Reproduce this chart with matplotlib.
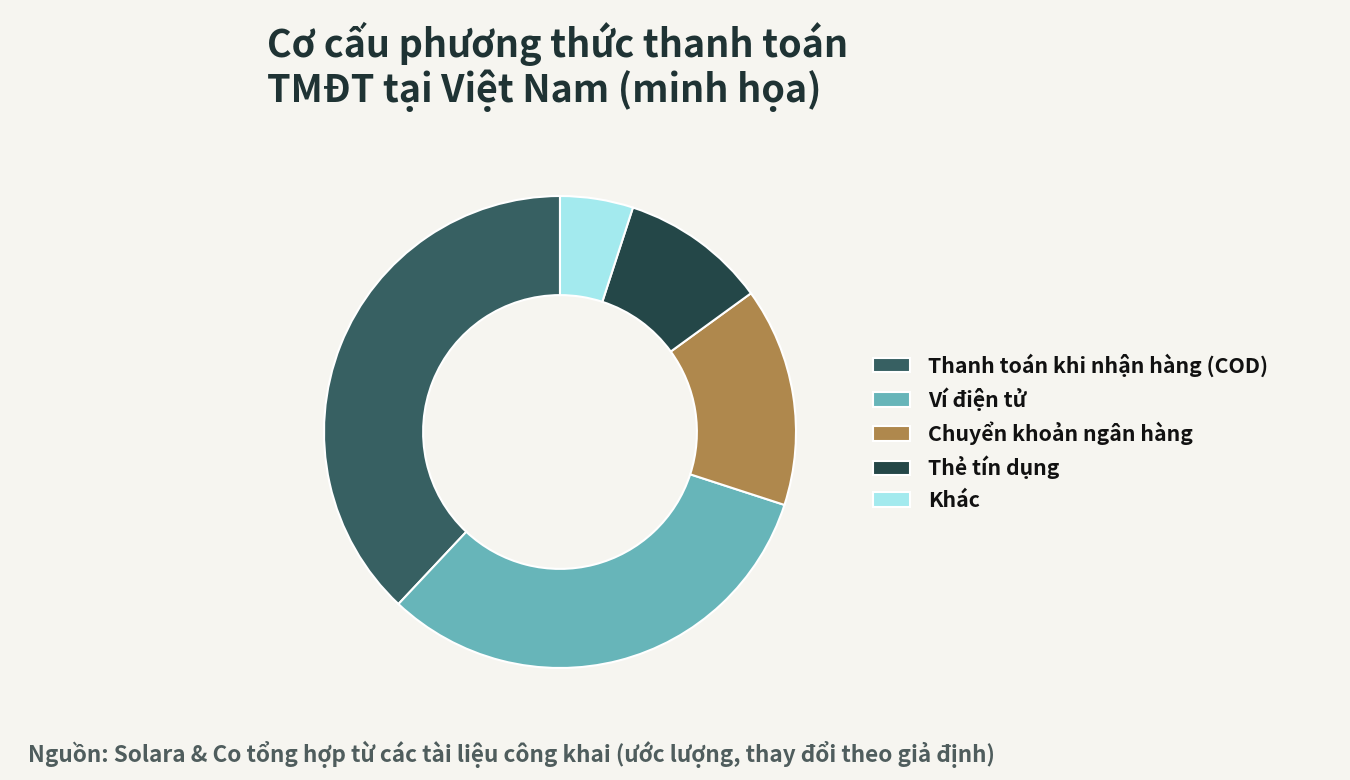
import matplotlib
matplotlib.use('Agg')
import matplotlib.pyplot as plt

plt.rcParams['font.family'] = ['Noto Sans CJK SC', 'DejaVu Sans']

labels = ['Thanh toán khi nhận hàng (COD)', 'Ví điện tử', 'Chuyển khoản ngân hàng',
          'Thẻ tín dụng', 'Khác']
shares = [38, 32, 15, 10, 5]
colors = ['#376062', '#67b5b9', '#af884d', '#244748', '#a3eaee']

W, H = 1350, 780
bg = '#f6f5f0'

fig = plt.figure(figsize=(W / 100, H / 100), dpi=100, facecolor=bg)

# donut centred at (560, 432) px, outer radius 236 px
cx, cy, r = 560, 432, 236
ax = fig.add_axes([(cx - r) / W, (H - cy - r) / H, 2 * r / W, 2 * r / H])
ax.set_facecolor(bg)
wedges, _ = ax.pie(shares, colors=colors, startangle=90, counterclock=True,
                   radius=1.0,
                   wedgeprops=dict(width=0.42, edgecolor='white', linewidth=1.5))
ax.set_xlim(-1, 1)
ax.set_ylim(-1, 1)
ax.set_aspect('equal')
ax.axis('off')

fig.text(267 / W, 1 - 22 / H, 'Cơ cấu phương thức thanh toán\nTMĐT tại Việt Nam (minh họa)',
         ha='left', va='top', fontsize=27.2, fontweight='bold', color='#1f3334',
         linespacing=1.1)

leg = fig.legend(wedges, labels, loc='center left',
                 bbox_to_anchor=(854 / W, 1 - 432 / H), frameon=False,
                 fontsize=15.3, handlelength=1.75, handleheight=0.65,
                 handletextpad=0.85, labelspacing=0.5)
for t in leg.get_texts():
    t.set_fontweight('bold')
    t.set_color('#111111')

fig.text(28 / W, 1 - 754 / H,
         'Nguồn: Solara & Co tổng hợp từ các tài liệu công khai (ước lượng, thay đổi theo giả định)',
         ha='left', va='center', fontsize=16.2, fontweight='bold', color='#4f5d5d')

fig.savefig('out.png', dpi=100, facecolor=bg)
